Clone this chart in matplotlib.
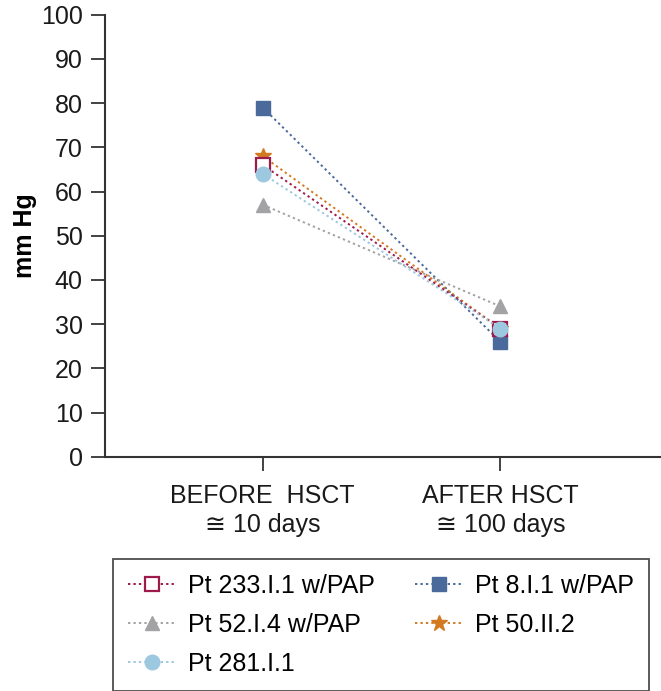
import matplotlib
matplotlib.use("Agg")
import matplotlib.pyplot as plt

plt.rcParams['font.family'] = ['Liberation Sans', 'DejaVu Sans']

categories = ["BEFORE  HSCT\n\u2245 10 days", "AFTER HSCT\n\u2245 100 days"]
patients = ["Pt 233.I.1 w/PAP", "Pt 8.I.1 w/PAP", "Pt 52.I.4 w/PAP", "Pt 50.II.2", "Pt 281.I.1"]
pt_233 = [66, 29]
pt_8 = [79, 26]
pt_52 = [57, 34]
pt_50 = [68, 29]
pt_281 = [64, 29]
yticks = list(range(0, 101, 10))

series = [pt_233, pt_8, pt_52, pt_50, pt_281]
colors = ["#9b1b4b", "#4a6a9c", "#a3a3a5", "#d27a22", "#9cc8e0"]
markers = ["s", "s", "^", "*", "o"]
sizes = [9.5, 9.5, 10, 12, 10.5]
filled = [False, True, True, True, True]

fig = plt.figure(figsize=(6.61, 6.91), dpi=100)
ax = fig.add_axes([105 / 661, 234.3 / 691, 556 / 661, 442 / 691])

x = list(range(len(categories)))
# blue square drawn first so the others sit on top of it at 'after'
order = [1, 2, 3, 0, 4]
handles = {}
for i in order:
    kw = dict(color=colors[i], linestyle=(0, (1.2, 1.6)), linewidth=1.4,
              marker=markers[i], markersize=sizes[i], label=patients[i])
    if filled[i]:
        kw.update(markerfacecolor=colors[i], markeredgecolor=colors[i])
    else:
        kw.update(markerfacecolor="white", markeredgecolor=colors[i], markeredgewidth=1.6)
    h, = ax.plot(x, series[i], **kw)
    handles[i] = h

ax.set_xlim(-0.664, 1.676)
ax.set_ylim(0, 100)
ax.set_yticks(yticks)
ax.set_xticks(x)
ax.set_xticklabels(categories, fontsize=18, linespacing=1.25)
ax.tick_params(axis="y", labelsize=18, length=10, width=1.2, colors="#222222", pad=6)
ax.tick_params(axis="x", length=10, width=1.2, colors="#222222", pad=10)
for lab in ax.get_xticklabels() + ax.get_yticklabels():
    lab.set_color("#1a1a1a")
ax.spines["top"].set_visible(False)
ax.spines["right"].set_visible(False)
ax.spines["left"].set_linewidth(1.5)
ax.spines["bottom"].set_linewidth(1.5)
ax.spines["left"].set_color("#333333")
ax.spines["bottom"].set_color("#333333")
ax.set_ylabel("mm Hg", fontsize=18, fontweight="bold", labelpad=3)

# legend fills row by row in the reference: reorder for matplotlib's column filling
leg_order = [0, 2, 4, 1, 3]
leg = fig.legend([handles[i] for i in leg_order], [patients[i] for i in leg_order],
                 loc="upper left", bbox_to_anchor=(113 / 661, 1 - 559 / 691),
                 bbox_transform=fig.transFigure, borderaxespad=0,
                 ncol=2, fontsize=18, frameon=True, fancybox=False, borderpad=0.6,
                 handlelength=1.9, handletextpad=0.5, columnspacing=1.6, labelspacing=0.6)
leg.get_frame().set_edgecolor("#222222")
leg.get_frame().set_linewidth(1.3)

fig.savefig("out.png", dpi=100)
